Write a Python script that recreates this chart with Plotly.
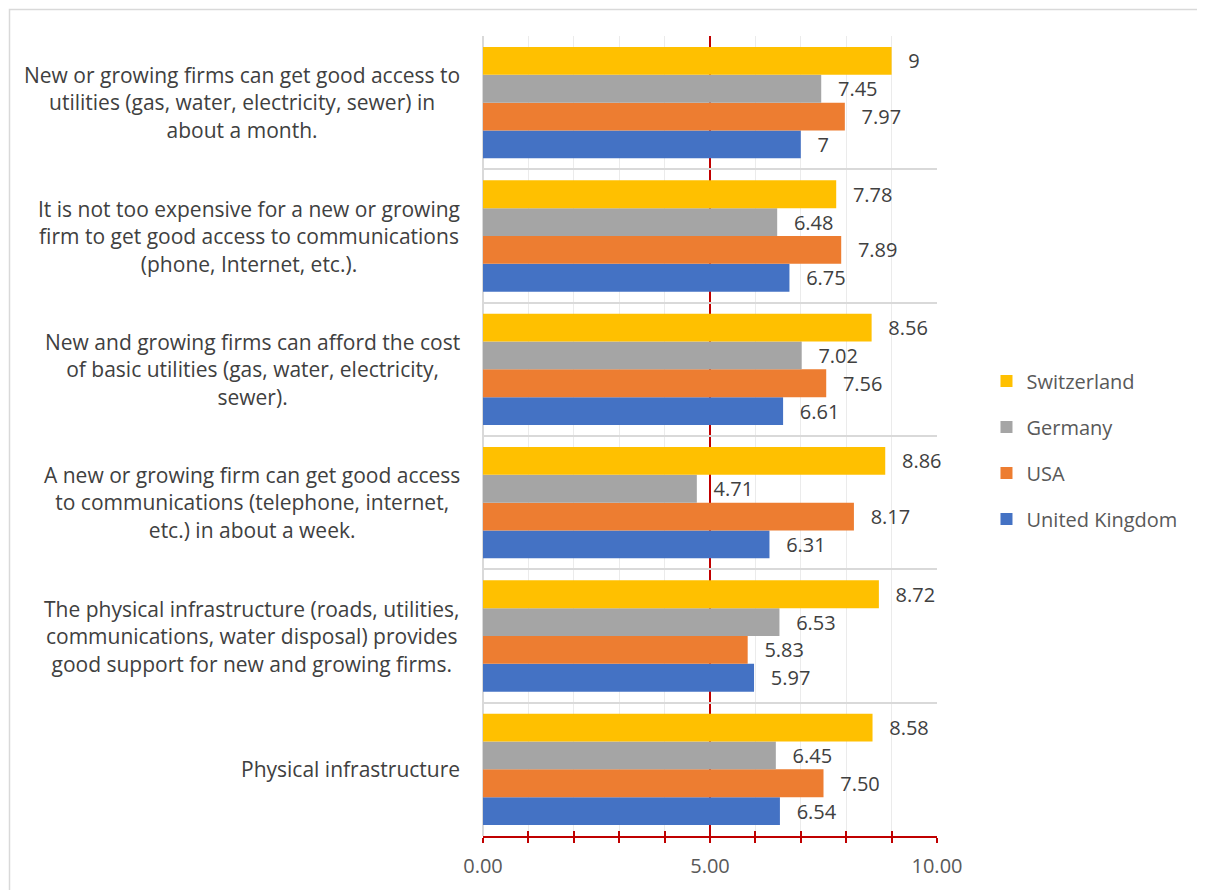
import plotly.graph_objects as go

categories = [
    "New or growing firms can get good access to<br>utilities (gas, water, electricity, sewer) in<br>about a month.",
    "It is not too expensive for a new or growing<br>firm to get good access to communications<br>(phone, Internet, etc.).",
    "New and growing firms can afford the cost<br>of basic utilities (gas, water, electricity,<br>sewer).",
    "A new or growing firm can get good access<br>to communications (telephone, internet,<br>etc.) in about a week.",
    "The physical infrastructure (roads, utilities,<br>communications, water disposal) provides<br>good support for new and growing firms.",
    "Physical infrastructure",
]
switzerland = [9, 7.78, 8.56, 8.86, 8.72, 8.58]
germany = [7.45, 6.48, 7.02, 4.71, 6.53, 6.45]
usa = [7.97, 7.89, 7.56, 8.17, 5.83, 7.50]
united_kingdom = [7, 6.75, 6.61, 6.31, 5.97, 6.54]

series = [
    ("United Kingdom", united_kingdom, "#4472C4", 4),
    ("USA", usa, "#ED7D31", 3),
    ("Germany", germany, "#A5A5A5", 2),
    ("Switzerland", switzerland, "#FFC000", 1),
]

FONT = "Open Sans"
TXT = "#404040"
RED = "#C00000"


def fmt(i, v):
    return f"{v:g}" if i == 0 else f"{v:.2f}"


fig = go.Figure()
for name, vals, color, rank in series:
    fig.add_trace(go.Bar(
        y=categories, x=vals, name=name, orientation="h",
        marker=dict(color=color, line=dict(width=0)),
        text=["\u00a0\u00a0\u2009" + fmt(i, v) for i, v in enumerate(vals)],
        textposition="outside", cliponaxis=False, constraintext="none",
        textfont=dict(family=FONT, size=20, color=TXT),
        legendgroup=name, legendrank=rank, hoverinfo="x+name",
    ))

# invisible helper trace to carry the second x axis (inner half of cross ticks)
fig.add_trace(go.Scatter(x=[0], y=[categories[0]], xaxis="x2", yaxis="y",
                         mode="markers", marker=dict(opacity=0),
                         showlegend=False, hoverinfo="skip"))

for cat in categories:
    fig.add_annotation(x=0, xref="paper", y=cat, yref="y", text=cat,
                       xanchor="right", xshift=-21, align="center",
                       showarrow=False, font=dict(family=FONT, size=21, color=TXT))

fig.update_layout(
    width=1205, height=890,
    margin=dict(l=475, r=276, t=28, b=62),
    paper_bgcolor="white", plot_bgcolor="white",
    barmode="group", bargap=0.165, bargroupgap=0,
    font=dict(family=FONT, size=20, color="#595959"),
    legend=dict(x=1.109, y=0.4825, xanchor="left", yanchor="middle",
                traceorder="grouped", tracegroupgap=17,
                font=dict(family=FONT, size=20, color="#595959")),
    xaxis=dict(range=[0, 10], dtick=5, tick0=0, tickformat=".2f",
               showgrid=True, gridcolor=RED, gridwidth=1.5,
               zeroline=True, zerolinecolor="#D9D9D9", zerolinewidth=1.5,
               showline=True, linecolor=RED, linewidth=1.5,
               ticks="outside", ticklen=5, tickcolor=RED, tickwidth=1.5,
               ticklabelstandoff=6,
               minor=dict(dtick=1, showgrid=True, gridcolor="#EBEBEB", gridwidth=1,
                          ticks="outside", ticklen=5, tickcolor=RED, tickwidth=1.5),
               tickfont=dict(family=FONT, size=20, color="#595959"),
               fixedrange=True),
    xaxis2=dict(overlaying="x", matches="x", anchor="y", side="bottom",
                range=[0, 10], dtick=1, tick0=0, showgrid=False, zeroline=False,
                showline=False, showticklabels=False,
                ticks="inside", ticklen=5, tickcolor=RED, tickwidth=1.5),
    yaxis=dict(categoryorder="array", categoryarray=categories[::-1],
               tickson="boundaries", showgrid=True, gridcolor="#D9D9D9", gridwidth=1.5,
               showticklabels=False, ticks="", showline=False, zeroline=False,
               fixedrange=True),
)

fig.add_shape(type="rect", xref="paper", yref="paper",
              x0=(9.5 - 483) / 454, x1=(1215 - 483) / 454,
              y0=(836 - 900) / 800, y1=(836 - 9.5) / 800,
              line=dict(color="#D9D9D9", width=1.5), fillcolor="rgba(0,0,0,0)",
              layer="above")

fig.write_html("out.html")
